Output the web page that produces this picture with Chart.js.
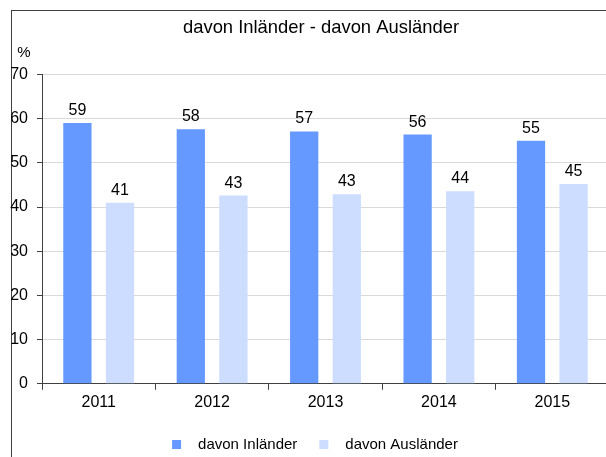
<!DOCTYPE html>
<html>
<head>
<meta charset="utf-8">
<script src="https://cdn.jsdelivr.net/npm/chart.js@4.4.1/dist/chart.umd.min.js"></script>
<style>
  html, body { margin: 0; padding: 0; background: #fff; overflow: hidden; }
  #wrap { position: relative; width: 606px; height: 457px; overflow: hidden; }
  #frame { position: absolute; left: 11px; top: 10px; width: 700px; height: 500px;
           border-top: 1px solid #404040; border-left: 1px solid #404040; }
  #chart { position: absolute; left: 0; top: 0; }
</style>
</head>
<body>
<div id="wrap">
  <div id="frame"></div>
  <canvas id="chart" width="640" height="457"></canvas>
</div>
<script>
const years = ["2011", "2012", "2013", "2014", "2015"];
const inlaender = [59.0, 57.6, 57.1, 56.4, 55.0];
const auslaender = [41.0, 42.6, 42.9, 43.6, 45.2];
const seriesNames = ["davon Inländer", "davon Ausländer"];
const seriesColors = ["#6699ff", "#ccddff"];
const titleText = "davon Inländer - davon Ausländer";
const unitText = "%";

const FONT = "'Liberation Sans', Arial, sans-serif";

// title, value labels, unit label and legend drawn on top of the bars
const extras = {
  id: "extras",
  afterDatasetsDraw(chart) {
    const ctx = chart.ctx;
    ctx.save();
    ctx.fillStyle = "#000";
    ctx.textAlign = "center";
    ctx.textBaseline = "alphabetic";

    ctx.font = "18.4px " + FONT;
    ctx.fillText(titleText, 321, 33);

    ctx.font = "16px " + FONT;
    chart.data.datasets.forEach((ds, i) => {
      chart.getDatasetMeta(i).data.forEach((bar, j) => {
        ctx.fillText(String(Math.round(ds.data[j])), bar.x, bar.y - 8);
      });
    });

    ctx.font = "15px " + FONT;
    ctx.fillText(unitText, 24, 57);

    // legend
    const box = 9, gap = 17, itemGap = 22, cy = 444.5, cx = 315;
    const widths = chart.data.datasets.map(ds => ctx.measureText(ds.label).width);
    let total = 0;
    widths.forEach((w, i) => { total += box + gap + w + (i ? itemGap : 0); });
    let x = cx - total / 2;
    ctx.textAlign = "left";
    ctx.textBaseline = "middle";
    chart.data.datasets.forEach((ds, i) => {
      ctx.fillStyle = ds.backgroundColor;
      ctx.fillRect(x, cy - box / 2, box, box);
      ctx.fillStyle = "#000";
      ctx.fillText(ds.label, x + box + gap, cy);
      x += box + gap + widths[i] + itemGap;
    });
    ctx.restore();
  }
};

new Chart(document.getElementById("chart"), {
  type: "bar",
  data: {
    labels: years,
    datasets: [
      { label: seriesNames[0], data: inlaender, backgroundColor: seriesColors[0] },
      { label: seriesNames[1], data: auslaender, backgroundColor: seriesColors[1] }
    ]
  },
  options: {
    responsive: false,
    animation: false,
    categoryPercentage: 0.751,
    barPercentage: 0.664,
    layout: { padding: { left: 0, right: 31, top: 74.5, bottom: 42 } },
    plugins: {
      legend: { display: false },
      tooltip: { enabled: false },
      title: { display: false }
    },
    scales: {
      x: {
        grid: { drawOnChartArea: false, drawTicks: true, tickLength: 6, tickColor: "#404040", offset: true },
        border: { display: true, color: "#404040", width: 1 },
        ticks: { color: "#000", font: { family: FONT, size: 16 }, padding: 3, maxRotation: 0 }
      },
      y: {
        min: 0,
        max: 70,
        afterFit(scale) { scale.width = 42; },
        grid: { color: "#d9d9d9", tickLength: 5, tickColor: "#404040" },
        border: { display: true, color: "#404040", width: 1 },
        ticks: { stepSize: 10, color: "#000", font: { family: FONT, size: 16 }, padding: 9 }
      }
    }
  },
  plugins: [extras]
});
</script>
</body>
</html>
